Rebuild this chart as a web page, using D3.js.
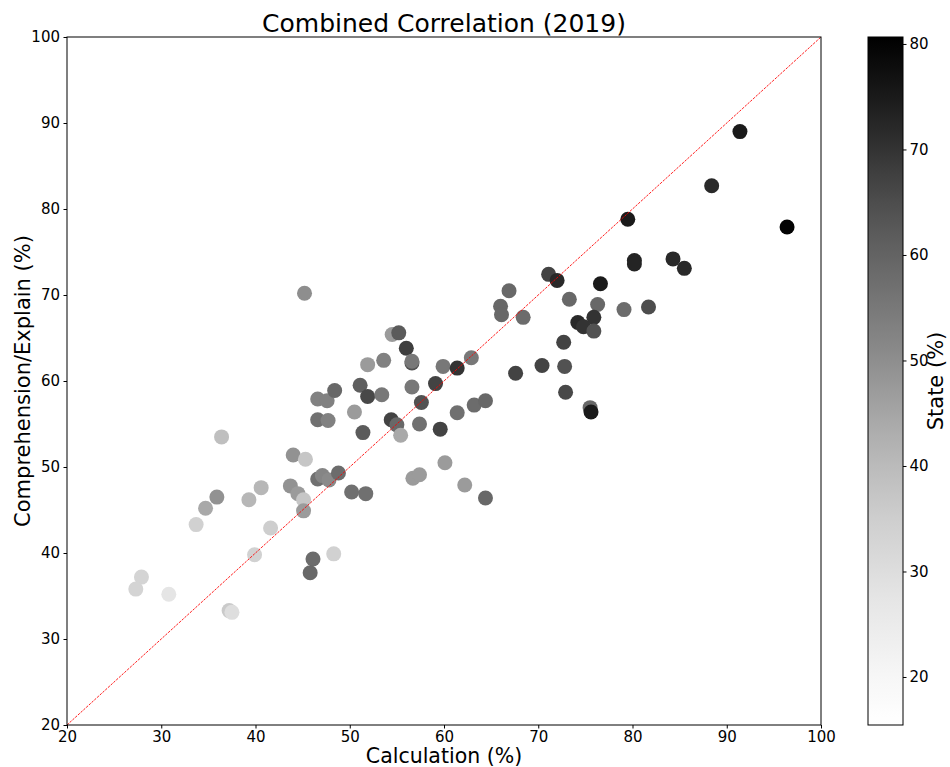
<!DOCTYPE html>
<html>
<head>
<meta charset="utf-8">
<script src="https://cdn.jsdelivr.net/npm/d3@7"></script>
<style>
  body { margin: 0; background: #fff; }
  svg text { font-family: "DejaVu Sans", sans-serif; fill: #000; }
</style>
</head>
<body>
<svg id="chart" width="950" height="767"></svg>
<script>
(function () {

  'use strict';

  // Data
  var calculation = [
    27.9, 27.3, 30.8, 33.7, 34.7, 35.9, 36.4, 37.2, 37.5, 39.3,
    39.9, 40.6, 41.6, 43.7, 44.0, 44.5, 45.1, 45.1, 45.3, 45.2,
    46.1, 45.8, 46.6, 47.1, 47.8, 48.8, 50.2, 51.7, 46.6, 47.6,
    48.4, 46.6, 47.7, 50.5, 51.1, 51.9, 53.4, 51.4, 51.9, 53.6,
    54.5, 55.2, 56.0, 56.6, 56.6, 56.6, 59.1, 59.9, 61.4, 62.9,
    57.6, 54.4, 55.0, 55.4, 57.4, 59.6, 61.4, 63.2, 64.4, 60.1,
    56.7, 57.4, 62.2, 64.4, 71.1, 72.0, 76.6, 66.9, 66.0, 66.1,
    68.4, 73.3, 76.3, 75.9, 74.2, 74.8, 75.9, 72.7, 67.6, 70.4,
    72.8, 72.9, 75.5, 75.6, 79.1, 81.7, 79.5, 80.2, 80.2, 84.3,
    85.5, 88.4, 91.4, 96.4, 48.3
  ];

  var explain = [
    37.2, 35.8, 35.2, 43.3, 45.2, 46.5, 53.5, 33.3, 33.1, 46.2,
    39.8, 47.6, 42.9, 47.8, 51.4, 46.9, 46.2, 44.9, 50.9, 70.2,
    39.3, 37.7, 48.6, 49.0, 48.5, 49.3, 47.1, 46.9, 57.9, 57.7,
    58.9, 55.5, 55.4, 56.4, 59.5, 58.2, 58.4, 54.0, 61.9, 62.4,
    65.4, 65.6, 63.8, 62.1, 62.3, 59.3, 59.7, 61.7, 61.5, 62.7,
    57.5, 55.5, 54.9, 53.7, 55.0, 54.4, 56.3, 57.2, 57.7, 50.5,
    48.7, 49.1, 47.9, 46.4, 72.4, 71.7, 71.3, 70.5, 68.7, 67.7,
    67.4, 69.5, 68.9, 67.4, 66.8, 66.3, 65.8, 64.5, 60.9, 61.8,
    61.7, 58.7, 56.9, 56.4, 68.3, 68.6, 78.8, 74.0, 73.6, 74.2,
    73.1, 82.7, 89.0, 77.9, 39.9
  ];

  var state = [
    33, 33, 27.5, 34, 44, 49, 39, 36, 30, 41,
    34, 41, 35, 49, 49, 47, 37, 47, 37, 50,
    58, 59, 57, 52, 51, 58, 57, 57, 53, 53,
    59, 57, 53, 47, 61, 66, 55, 62, 47, 53,
    47, 62, 68, 64, 55, 55, 67, 55, 70, 55,
    64, 67, 59, 44, 57, 67, 57, 58, 59, 47,
    47, 47, 47, 59, 67, 72, 75, 59, 59, 59,
    58, 59, 59, 70, 72, 70, 64, 67, 67, 67,
    64, 66, 59, 75, 58, 65, 75, 73, 73, 72,
    72, 72, 75, 80, 34
  ];

  var axisTicks = [20, 30, 40, 50, 60, 70, 80, 90, 100];
  var stateTicks = [20, 30, 40, 50, 60, 70, 80];
  var stateDomain = [15.45, 80.66];

  // Settings
  var margin = { top: 37, right: 129, bottom: 42, left: 67 };
  var width = 754;
  var height = 688;
  var tickFont = 15;

  var bar = { x: 868, width: 35 };

  var svg = d3.select('#chart');

  var x = d3.scaleLinear().domain([20, 100]).range([0, width]);
  var y = d3.scaleLinear().domain([20, 100]).range([height, 0]);
  var color = d3.scaleSequential(d3.interpolateGreys).domain(stateDomain);

  var points = calculation.map(function (c, i) {
    return { x: c, y: explain[i], s: state[i] };
  });

  var g = svg.append('g')
      .attr('transform', 'translate(' + margin.left + ',' + margin.top + ')');

  g.append('g')
    .selectAll('circle')
      .data(points)
      .enter()
    .append('circle')
      .attr('cx', function (d) { return x(d.x); })
      .attr('cy', function (d) { return y(d.y); })
      .attr('r', 7.5)
      .attr('fill', function (d) { return color(d.s); });

  // Diagonal reference line
  g.append('line')
      .attr('x1', x(20)).attr('y1', y(20))
      .attr('x2', x(100)).attr('y2', y(100))
      .attr('stroke', 'red')
      .attr('stroke-width', 0.9)
      .attr('stroke-dasharray', '2.5,1.2');

  g.append('rect')
      .attr('width', width)
      .attr('height', height)
      .attr('fill', 'none')
      .attr('stroke', '#000')
      .attr('stroke-width', 1);

  var xAxis = g.append('g')
      .attr('transform', 'translate(0,' + height + ')')
      .call(d3.axisBottom(x).tickValues(axisTicks).tickSize(3.5).tickPadding(2.5));

  var yAxis = g.append('g')
      .call(d3.axisLeft(y).tickValues(axisTicks).tickSize(3.5).tickPadding(3.5));

  [xAxis, yAxis].forEach(function (a) {
    a.select('.domain').remove();
    a.selectAll('text').attr('font-size', tickFont).attr('font-family', 'DejaVu Sans');
  });

  svg.append('text')
      .attr('x', margin.left + width / 2)
      .attr('y', 32)
      .attr('text-anchor', 'middle')
      .attr('font-size', 25)
      .text('Combined Correlation (2019)');

  svg.append('text')
      .attr('x', margin.left + width / 2)
      .attr('y', 763)
      .attr('text-anchor', 'middle')
      .attr('font-size', 20.5)
      .text('Calculation (%)');

  svg.append('text')
      .attr('transform', 'translate(30,' + (margin.top + height / 2) + ') rotate(-90)')
      .attr('text-anchor', 'middle')
      .attr('font-size', 21)
      .text('Comprehension/Explain (%)');

  // Colour bar
  var cy = d3.scaleLinear().domain(stateDomain).range([margin.top + height, margin.top]);

  var grad = svg.append('defs').append('linearGradient')
      .attr('id', 'greys')
      .attr('x1', 0).attr('y1', 1)
      .attr('x2', 0).attr('y2', 0);

  grad.selectAll('stop')
      .data(d3.range(0, 1.0001, 0.02))
      .enter()
    .append('stop')
      .attr('offset', function (t) { return t; })
      .attr('stop-color', function (t) { return d3.interpolateGreys(t); });

  svg.append('rect')
      .attr('x', bar.x)
      .attr('y', margin.top)
      .attr('width', bar.width)
      .attr('height', height)
      .attr('fill', 'url(#greys)')
      .attr('stroke', '#000')
      .attr('stroke-width', 1);

  var cAxis = svg.append('g')
      .attr('transform', 'translate(' + (bar.x + bar.width) + ',0)')
      .call(d3.axisRight(cy).tickValues(stateTicks).tickSize(3.5).tickPadding(3));

  cAxis.select('.domain').remove();
  cAxis.selectAll('text').attr('font-size', tickFont).attr('font-family', 'DejaVu Sans');

  svg.append('text')
      .attr('transform', 'translate(943,' + (margin.top + height / 2) + ') rotate(-90)')
      .attr('text-anchor', 'middle')
      .attr('font-size', 21)
      .text('State (%)');
})();
</script>
</body>
</html>
